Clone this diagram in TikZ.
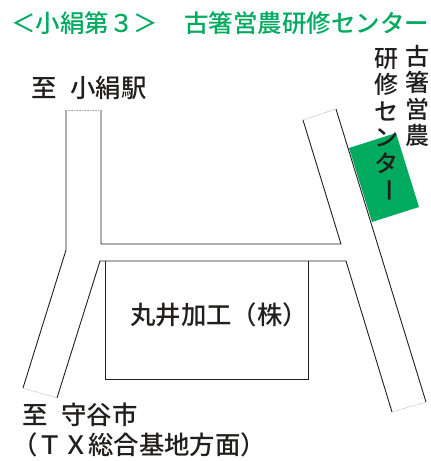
\documentclass[tikz,border=0pt]{standalone}
\usepackage{fontspec}
\setmainfont{Noto Sans CJK JP Medium}
\newfontfamily\boldish{Noto Sans CJK JP Medium}
\definecolor{grn}{RGB}{0,170,95}
\definecolor{ink}{RGB}{35,30,30}
\tikzset{
  road/.style={draw=ink,line width=0.9pt,line join=miter},
  roadend/.style={draw=black!35,line width=0.4pt,dash pattern=on 1pt off 0.6pt},
  lbl/.style={inner sep=0pt,text=ink,font=\fontsize{25.4}{26}\selectfont,anchor=west},
  vlbl/.style={inner sep=0pt,text=ink,align=center,anchor=north,font=\fontsize{24}{26.4}\selectfont},
  ttl/.style={inner sep=0pt,text=grn,font=\boldish\fontsize{24.5}{26}\selectfont,anchor=west}
}
\begin{document}
\begin{tikzpicture}[x=1pt,y=-1pt]
\useasboundingbox (0,0) rectangle (431,461);
% green building
\fill[grn] (349,148) -- (396,133) -- (419,207) -- (372,222) -- cycle;
% roads
\draw[road] (66,110) -- (66,250) -- (23,388);
\draw[road] (57,398) -- (100,261) -- (346,261) -- (392,412);
\draw[road] (426,402) -- (336,109);
\draw[road] (303,120) -- (341,244) -- (101,244) -- (101,110);
\draw[roadend] (66,110) -- (101,110);
\draw[roadend] (303,120) -- (336,109);
\draw[roadend] (23,388) -- (57,398);
\draw[roadend] (392,412) -- (426,402);
% factory
\draw[road] (105,261) -- (105,379.5) -- (308,379.5) -- (308,261);
% texts
\node[ttl] (title1) at (11,23) {＜小絹第３＞};
\node[ttl] (title2) at (184,23) {古箸営農研修センター};
\node[lbl] (eki) at (31,88) {至\hspace{0.55em}小絹駅};
\node[lbl] (maru) at (130,315) {丸井加工（株）};
\node[lbl] (mori) at (22,415) {至\hspace{0.55em}守谷市};
\node[lbl] (tx) at (12,445) {（ＴＸ総合基地方面）};
\node[vlbl] (v1) at (417,45) {古\\箸\\営\\農};
\node[vlbl] (v2) at (386,48) {研\\修\\セ\\ン\\タ};
\node[inner sep=0pt,text=ink,font=\fontsize{24}{26}\selectfont,rotate=-90] (v3) at (386,190) {ー};
\end{tikzpicture}
\end{document}
